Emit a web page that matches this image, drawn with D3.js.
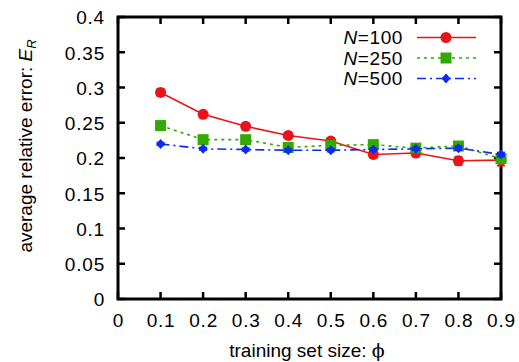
<!DOCTYPE html>
<html><head><meta charset="utf-8">
<script src="https://cdn.jsdelivr.net/npm/d3@7"></script>
<style>body{margin:0;background:#fff}svg{display:block}text{font-family:"Liberation Sans",Arial,sans-serif}</style>
</head><body><svg id="c" width="519" height="362"></svg>
<script>
const phi = [0.1,0.2,0.3,0.4,0.5,0.6,0.7,0.8,0.9];
const n100 = [0.293,0.262,0.245,0.232,0.224,0.205,0.207,0.196,0.197];
const n250 = [0.246,0.226,0.226,0.215,0.218,0.219,0.214,0.217,0.199];
const n500 = [0.220,0.213,0.212,0.211,0.211,0.212,0.213,0.214,0.205];
const e100 = [0.005,0.004,0.004,0.004,0.004,0.005,0.005,0.006,0.008];
const e250 = [0.003,0.003,0.003,0.003,0.003,0.003,0.003,0.004,0.005];
const e500 = [0.002,0.002,0.002,0.002,0.002,0.002,0.002,0.003,0.003];
const xTicks = [0,0.1,0.2,0.3,0.4,0.5,0.6,0.7,0.8,0.9];
const yTicks = [0,0.05,0.1,0.15,0.2,0.25,0.3,0.35,0.4];
const seriesNames = ["100","250","500"];

const svg = d3.select("#c");
const L=118,R=501,T=17,B=299;
const x = d3.scaleLinear().domain([0,0.9]).range([L,R]);
const y = d3.scaleLinear().domain([0,0.4]).range([B,T]);
const fs = 19;

const tk = 7;
const g = svg.append("g");
xTicks.forEach(v=>{
  g.append("line").attr("x1",x(v)).attr("x2",x(v)).attr("y1",B).attr("y2",B-tk).attr("stroke","#000").attr("stroke-width",2.5);
  g.append("line").attr("x1",x(v)).attr("x2",x(v)).attr("y1",T).attr("y2",T+tk).attr("stroke","#000").attr("stroke-width",2.5);
});
yTicks.forEach(v=>{
  g.append("line").attr("x1",L).attr("x2",L+tk).attr("y1",y(v)).attr("y2",y(v)).attr("stroke","#000").attr("stroke-width",2.5);
  g.append("line").attr("x1",R).attr("x2",R-tk).attr("y1",y(v)).attr("y2",y(v)).attr("stroke","#000").attr("stroke-width",2.5);
});
const xa = svg.append("g").attr("transform",`translate(0,${B})`)
  .call(d3.axisBottom(x).tickValues(xTicks).tickFormat(d=>String(+d.toFixed(2))).tickSize(0).tickPadding(0));
const ya = svg.append("g").attr("transform",`translate(${L},0)`)
  .call(d3.axisLeft(y).tickValues(yTicks).tickFormat(d=>String(+d.toFixed(2))).tickSize(0).tickPadding(13));
[xa,ya].forEach(a=>{a.select(".domain").remove();a.selectAll("text").attr("font-size",fs).attr("fill","#000").style("letter-spacing","0.8px").attr("font-family","Liberation Sans, Arial, sans-serif");});
xa.selectAll("text").attr("dy",null).attr("y",28);
ya.selectAll("text").attr("dy","0.36em");

svg.append("rect").attr("x",L).attr("y",T).attr("width",R-L).attr("height",B-T)
  .attr("fill","none").attr("stroke","#000").attr("stroke-width",3);

const yt = svg.append("text").attr("transform","translate(32,146) rotate(-90)").attr("text-anchor","middle").attr("font-size",fs);
yt.append("tspan").text("average relative error: ");
yt.append("tspan").attr("font-style","italic").text("E");
yt.append("tspan").attr("font-style","italic").attr("font-size",13).attr("dy",4).text("R");
const xt = svg.append("text").attr("x",307).attr("y",357).attr("text-anchor","middle").attr("font-size",fs);
xt.append("tspan").text("training set size: ");
xt.append("tspan").attr("font-family","DejaVu Serif, serif").text("\u03d5");

const series = [
  {vals:n100,err:e100,color:"#e8141c",dash:null,shape:"circle"},
  {vals:n250,err:e250,color:"#33aa00",dash:"3,4",shape:"square"},
  {vals:n500,err:e500,color:"#0a2cf0",dash:"9,4,2,4",shape:"diamond"}
];
function marker(sel,shape,cx,cy,color){
  if(shape==="circle") sel.append("circle").attr("cx",cx).attr("cy",cy).attr("r",5.5).attr("fill",color);
  else if(shape==="square") sel.append("rect").attr("x",cx-5.5).attr("y",cy-5.5).attr("width",11).attr("height",11).attr("fill",color);
  else sel.append("path").attr("d",`M${cx},${cy-5}L${cx+4.5},${cy}L${cx},${cy+5}L${cx-4.5},${cy}Z`).attr("fill",color);
}
const line = d3.line().x((d,i)=>x(phi[i])).y(d=>y(d));
series.forEach(s=>{
  const sg = svg.append("g");
  sg.append("path").attr("d",line(s.vals)).attr("fill","none").attr("stroke",s.color).attr("stroke-width",1.6)
    .attr("stroke-dasharray",s.dash);
  s.vals.forEach((v,i)=>{
    const cx=x(phi[i]);
    sg.append("line").attr("x1",cx).attr("x2",cx).attr("y1",y(v-s.err[i])).attr("y2",y(v+s.err[i])).attr("stroke",s.color).attr("stroke-width",1.5);
    [v-s.err[i],v+s.err[i]].forEach(e=>sg.append("line").attr("x1",cx-4).attr("x2",cx+4).attr("y1",y(e)).attr("y2",y(e)).attr("stroke",s.color).attr("stroke-width",1.5));
    marker(sg,s.shape,cx,y(v),s.color);
  });
});

const ly=[37.5,58,78.5];
series.forEach((s,i)=>{
  const t = svg.append("text").attr("x",403).attr("y",ly[i]).attr("dy","0.36em").attr("text-anchor","end").attr("font-size",fs).style("letter-spacing","0.6px");
  t.append("tspan").attr("font-style","italic").text("N");
  t.append("tspan").text("="+seriesNames[i]);
  svg.append("line").attr("x1",417).attr("x2",476).attr("y1",ly[i]).attr("y2",ly[i]).attr("stroke",s.color).attr("stroke-width",1.6).attr("stroke-dasharray",s.dash);
  marker(svg,s.shape,446,ly[i],s.color);
});
</script></body></html>
